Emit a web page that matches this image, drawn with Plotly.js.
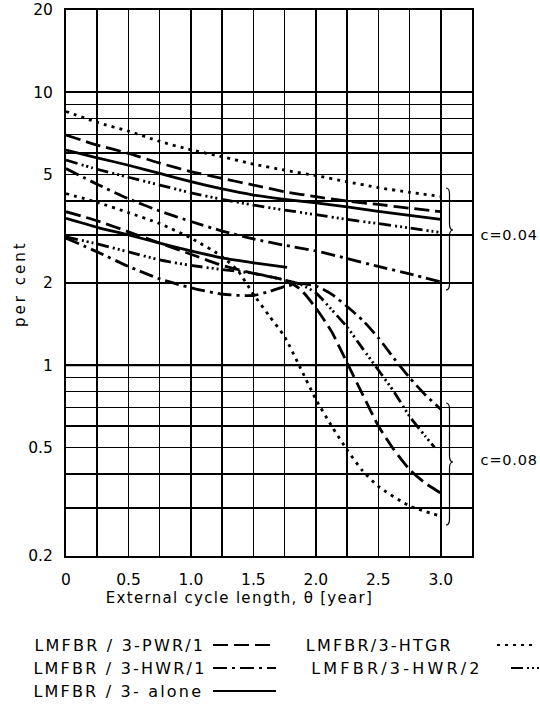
<!DOCTYPE html>
<html>
<head>
<meta charset="utf-8">
<script src="https://cdn.plot.ly/plotly-3.0.1.min.js"></script>
<style>
  body { margin: 0; background: #fff; }
  #chart { width: 540px; height: 710px; }
  g.annotation text { letter-spacing: 0.8px; }
  g.annotation[data-index="0"] text, g.annotation[data-index="1"] text, g.annotation[data-index="2"] text,
  g.annotation[data-index="3"] text { letter-spacing: 2.2px; }
  g.annotation[data-index="4"] text { letter-spacing: 3.2px; }
  g.annotation[data-index="7"] text { letter-spacing: 1.3px; }
  g.annotation[data-index="8"] text { letter-spacing: 3px; }
</style>
</head>
<body>
<div id="chart"></div>
<script>
// ---------------- data ----------------
const xGrid = [0, 0.25, 0.5, 0.75, 1, 1.25, 1.5, 1.75, 2, 2.25, 2.5, 2.75, 3];

// c = 0.04 group
const htgr04  = [8.5, 7.75, 7.2, 6.6, 6.15, 5.8, 5.45, 5.18, 4.95, 4.7, 4.47, 4.3, 4.15];
const pwr04   = [6.97, 6.4, 5.97, 5.5, 5.12, 4.83, 4.57, 4.32, 4.14, 3.99, 3.88, 3.76, 3.65];
const alone04 = [6.14, 5.75, 5.4, 5.04, 4.7, 4.42, 4.2, 4.05, 3.93, 3.8, 3.66, 3.54, 3.42];
const hwr2_04 = [5.64, 5.22, 4.88, 4.57, 4.28, 4.05, 3.86, 3.7, 3.56, 3.42, 3.3, 3.18, 3.06];
const hwr1_04 = [5.25, 4.6, 4.07, 3.67, 3.36, 3.1, 2.9, 2.75, 2.62, 2.46, 2.3, 2.16, 2.02];

// c = 0.08 group
const htgr08X = [0, 0.25, 0.5, 0.75, 1, 1.25, 1.375, 1.5, 1.625, 1.75, 1.875, 2, 2.125, 2.25, 2.375, 2.5, 2.75, 3];
const htgr08  = [4.25, 3.95, 3.62, 3.3, 2.92, 2.5, 2.22, 1.82, 1.52, 1.27, 0.98, 0.75, 0.6, 0.49, 0.41, 0.36, 0.305, 0.28];

const pwr08X = [0, 0.25, 0.5, 0.75, 1, 1.25, 1.5, 1.75, 1.875, 2, 2.125, 2.25, 2.375, 2.5, 2.625, 2.75, 2.875, 3];
const pwr08  = [3.65, 3.38, 3.08, 2.8, 2.55, 2.32, 2.17, 2.05, 1.9, 1.62, 1.33, 1.02, 0.78, 0.6, 0.49, 0.415, 0.37, 0.34];

const alone08X = [0, 0.25, 0.5, 0.75, 1, 1.25, 1.5, 1.77];
const alone08  = [3.45, 3.2, 3.0, 2.8, 2.62, 2.47, 2.37, 2.28];

const hwr2_08X = [0, 0.25, 0.5, 0.75, 1, 1.25, 1.5, 1.75, 1.875, 2, 2.125, 2.25, 2.375, 2.5, 2.625, 2.75, 2.875, 2.95];
const hwr2_08  = [2.95, 2.78, 2.6, 2.43, 2.32, 2.24, 2.17, 2.05, 1.98, 1.84, 1.6, 1.38, 1.15, 0.96, 0.8, 0.65, 0.55, 0.5];

const hwr1_08X = [0, 0.25, 0.5, 0.75, 1, 1.25, 1.5, 1.625, 1.75, 1.875, 2, 2.125, 2.25, 2.375, 2.5, 2.625, 2.75, 2.875, 3];
const hwr1_08  = [2.92, 2.6, 2.3, 2.07, 1.92, 1.82, 1.8, 1.86, 1.94, 1.99, 1.95, 1.82, 1.64, 1.46, 1.26, 1.06, 0.9, 0.78, 0.69];

// axis ticks
const xTickVals = [0, 0.25, 0.5, 0.75, 1, 1.25, 1.5, 1.75, 2, 2.25, 2.5, 2.75, 3, 3.25];
const xTickText = ["0", "", "0.5", "", "1.0", "", "1.5", "", "2.0", "", "2.5", "", "3.0", ""];
const yTickVals = [0.2, 0.3, 0.4, 0.5, 0.6, 0.7, 0.8, 0.9, 1, 2, 3, 4, 5, 6, 7, 8, 9, 10, 20];
const yTickText = ["0.2", "", "", "0.5", "", "", "", "", "1", "2", "", "", "5", "", "", "", "", "10", "20"];

// legend entries and labels
const legendNames = ["LMFBR / 3-PWR/1", "LMFBR / 3-HWR/1", "LMFBR / 3- alone", "LMFBR/3-HTGR", "LMFBR/3-HWR/2"];
const groupLabels = ["c=0.04", "c=0.08"];
const xTitle = "External cycle length, θ [year]";
const yTitle = "per cent";

// ---------------- styles ----------------
const FONT = "DejaVu Sans, sans-serif";
const W = 540, H = 710, M = {l: 66, r: 68, t: 10, b: 154};
const PW = W - M.l - M.r, PH = H - M.t - M.b;
const px2x = p => (p - M.l) / PW;
const py2y = p => (H - M.b - p) / PH;

const DASH = {
  pwr: "15px,6px",
  hwr1: "14px,5px,3px,5px",
  alone: "solid",
  htgr: "3px,5px",
  hwr2: "12px,4px,2px,3px,2px,3px,2px,4px"
};
const LW = 2.8;

function tr(x, y, dash) {
  return {x: x, y: y, type: "scatter", mode: "lines", hoverinfo: "skip",
    line: {color: "#000", width: LW, dash: dash, shape: "spline", smoothing: 0.6}};
}

const traces = [
  tr(xGrid, htgr04, DASH.htgr),
  tr(xGrid, pwr04, DASH.pwr),
  tr(xGrid, alone04, DASH.alone),
  tr(xGrid, hwr2_04, DASH.hwr2),
  tr(xGrid, hwr1_04, DASH.hwr1),
  tr(htgr08X, htgr08, DASH.htgr),
  tr(pwr08X, pwr08, DASH.pwr),
  tr(alone08X, alone08, DASH.alone),
  tr(hwr2_08X, hwr2_08, DASH.hwr2),
  tr(hwr1_08X, hwr1_08, DASH.hwr1)
];

// curly braces beside the groups
function brace(xL, top, mid, bot) {
  const x0 = px2x(xL), x1 = px2x(xL + 3.5), x2 = px2x(xL + 7);
  const r = 6;
  const p = (x, y) => x + "," + py2y(y);
  return "M" + p(x0, top) + " Q" + p(x1, top) + " " + p(x1, top + r) +
    " L" + p(x1, mid - r) + " Q" + p(x1, mid) + " " + p(x2, mid) +
    " Q" + p(x1, mid) + " " + p(x1, mid + r) +
    " L" + p(x1, bot - r) + " Q" + p(x1, bot) + " " + p(x0, bot);
}

const shapes = [
  {type: "line", xref: "paper", yref: "y", x0: 0, x1: 1, y0: Math.log10(1), y1: Math.log10(1), line: {color: "#000", width: 2.2}},
  {type: "line", xref: "paper", yref: "y", x0: 0, x1: 1, y0: Math.log10(10), y1: Math.log10(10), line: {color: "#000", width: 2.2}},
  {type: "path", xref: "paper", yref: "paper", path: brace(446, 188, 230, 290), line: {color: "#000", width: 1.2}},
  {type: "path", xref: "paper", yref: "paper", path: brace(446, 403, 462, 525), line: {color: "#000", width: 1.2}}
];

// legend: text (centred on reference span) followed by a line sample
const legendPos = [
  {tc: 120, sx0: 213, sx1: 276, y: 645, dash: DASH.pwr},
  {tc: 120, sx0: 213, sx1: 276, y: 668, dash: DASH.hwr1},
  {tc: 118, sx0: 213, sx1: 276, y: 691, dash: DASH.alone},
  {tc: 379, sx0: 497, sx1: 532, y: 645, dash: DASH.htgr},
  {tc: 397, sx0: 511, sx1: 539, y: 668, dash: DASH.hwr2}
];
const annotations = [];
legendNames.forEach((name, i) => {
  const L = legendPos[i];
  annotations.push({xref: "paper", yref: "paper", x: px2x(L.tc), y: py2y(L.y), xanchor: "center", yanchor: "middle",
    text: name, showarrow: false, font: {family: FONT, size: 16, color: "#000"}});
  shapes.push({type: "line", xref: "paper", yref: "paper", x0: px2x(L.sx0), x1: px2x(L.sx1), y0: py2y(L.y), y1: py2y(L.y),
    line: {color: "#000", width: 2.2, dash: L.dash}});
});

annotations.push({xref: "paper", yref: "paper", x: px2x(509), y: py2y(235), xanchor: "center", yanchor: "middle",
  text: groupLabels[0], showarrow: false, font: {family: FONT, size: 14.5, color: "#000"}});
annotations.push({xref: "paper", yref: "paper", x: px2x(509), y: py2y(460), xanchor: "center", yanchor: "middle",
  text: groupLabels[1], showarrow: false, font: {family: FONT, size: 14.5, color: "#000"}});
annotations.push({xref: "paper", yref: "paper", x: px2x(239), y: py2y(598), xanchor: "center", yanchor: "middle",
  text: xTitle, showarrow: false, font: {family: FONT, size: 15, color: "#000"}});
annotations.push({xref: "paper", yref: "paper", x: px2x(20), y: py2y(284), xanchor: "center", yanchor: "middle",
  text: yTitle, textangle: -90, showarrow: false, font: {family: FONT, size: 15, color: "#000"}});

const layout = {
  width: W, height: H, margin: M,
  paper_bgcolor: "#fff", plot_bgcolor: "#fff",
  showlegend: false,
  font: {family: FONT, color: "#000"},
  xaxis: {
    range: [0, 3.25], tickmode: "array", tickvals: xTickVals, ticktext: xTickText,
    showgrid: true, gridcolor: "#000", gridwidth: 1.5, zeroline: false,
    showline: true, mirror: true, linecolor: "#000", linewidth: 2,
    ticks: "", ticklabelstandoff: 8, tickfont: {family: FONT, size: 15.5, color: "#000"}, fixedrange: true
  },
  yaxis: {
    type: "log", range: [Math.log10(0.2), Math.log10(20)], tickmode: "array", tickvals: yTickVals, ticktext: yTickText,
    showgrid: true, gridcolor: "#000", gridwidth: 1.5, zeroline: false,
    showline: true, mirror: true, linecolor: "#000", linewidth: 2,
    ticks: "", ticklabelstandoff: 8, tickfont: {family: FONT, size: 15.5, color: "#000"}, fixedrange: true
  },
  shapes: shapes,
  annotations: annotations
};

Plotly.newPlot("chart", traces, layout, {staticPlot: true, displayModeBar: false});
</script>
</body>
</html>
